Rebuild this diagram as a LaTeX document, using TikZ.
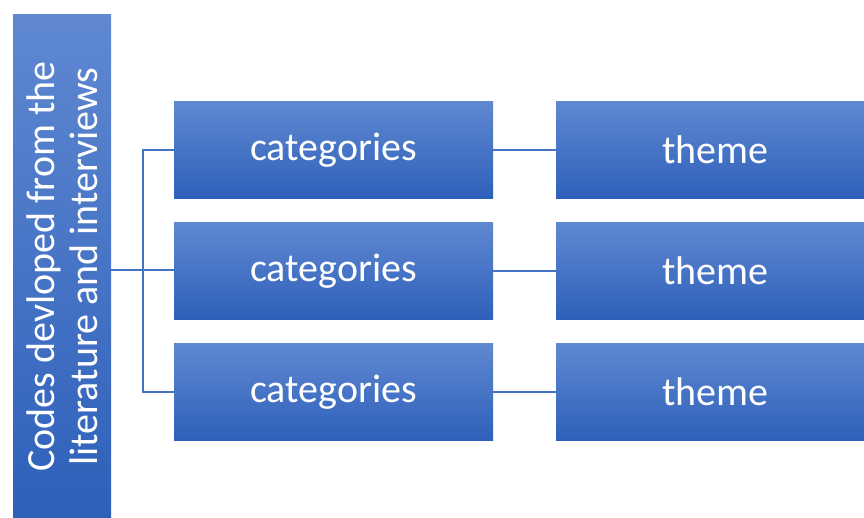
\documentclass[tikz,border=0pt]{standalone}
\usepackage{fontspec}
\setmainfont{Carlito}
\usetikzlibrary{calc}
\definecolor{boxtop}{HTML}{5F88D1}
\definecolor{boxbot}{HTML}{2E60BA}
\definecolor{linkblue}{HTML}{4472C4}
\tikzset{
	box/.style={inner sep=0pt, text=white, top color=boxtop, bottom color=boxbot,
		minimum width=319pt, minimum height=97pt,
		font=\fontsize{40}{43}\selectfont},
	link/.style={draw=linkblue, line width=1.2pt}
}

\begin{document}
\begin{tikzpicture}[x=1pt, y=-1pt]
		%%%%% START %%%%%
		\useasboundingbox (0, 0) rectangle (864, 518);
		\clip (0, 0) rectangle (864, 518);
		
		\node[box, rotate=90, minimum width=503pt, minimum height=98pt,
			shading angle=0, align=center] (codes) at (62, 266.5)
			{Codes devloped from the\\literature and interviews};
		
		\node[box] (cat1) at (333.5, 150) {categories};
		\node[box] (cat2) at (333.5, 271) {categories};
		\node[box] (cat3) at (333.5, 392) {categories};
		
		\node[box] (theme1) at (715.5, 150) {theme};
		\node[box] (theme2) at (715.5, 271) {theme};
		\node[box] (theme3) at (715.5, 392) {theme};
		
		\coordinate (hub) at (143, 270);
		
		\draw[link] (codes.south |- hub) -- (hub -| cat2.west);
		\draw[link] (cat1.west) -| (hub) |- (cat3.west);
		
		\foreach \i in {1,2,3}
			\draw[link] (cat\i.east) -- (theme\i.west);
		%%%%% END %%%%%
	\end{tikzpicture}
\end{document}
